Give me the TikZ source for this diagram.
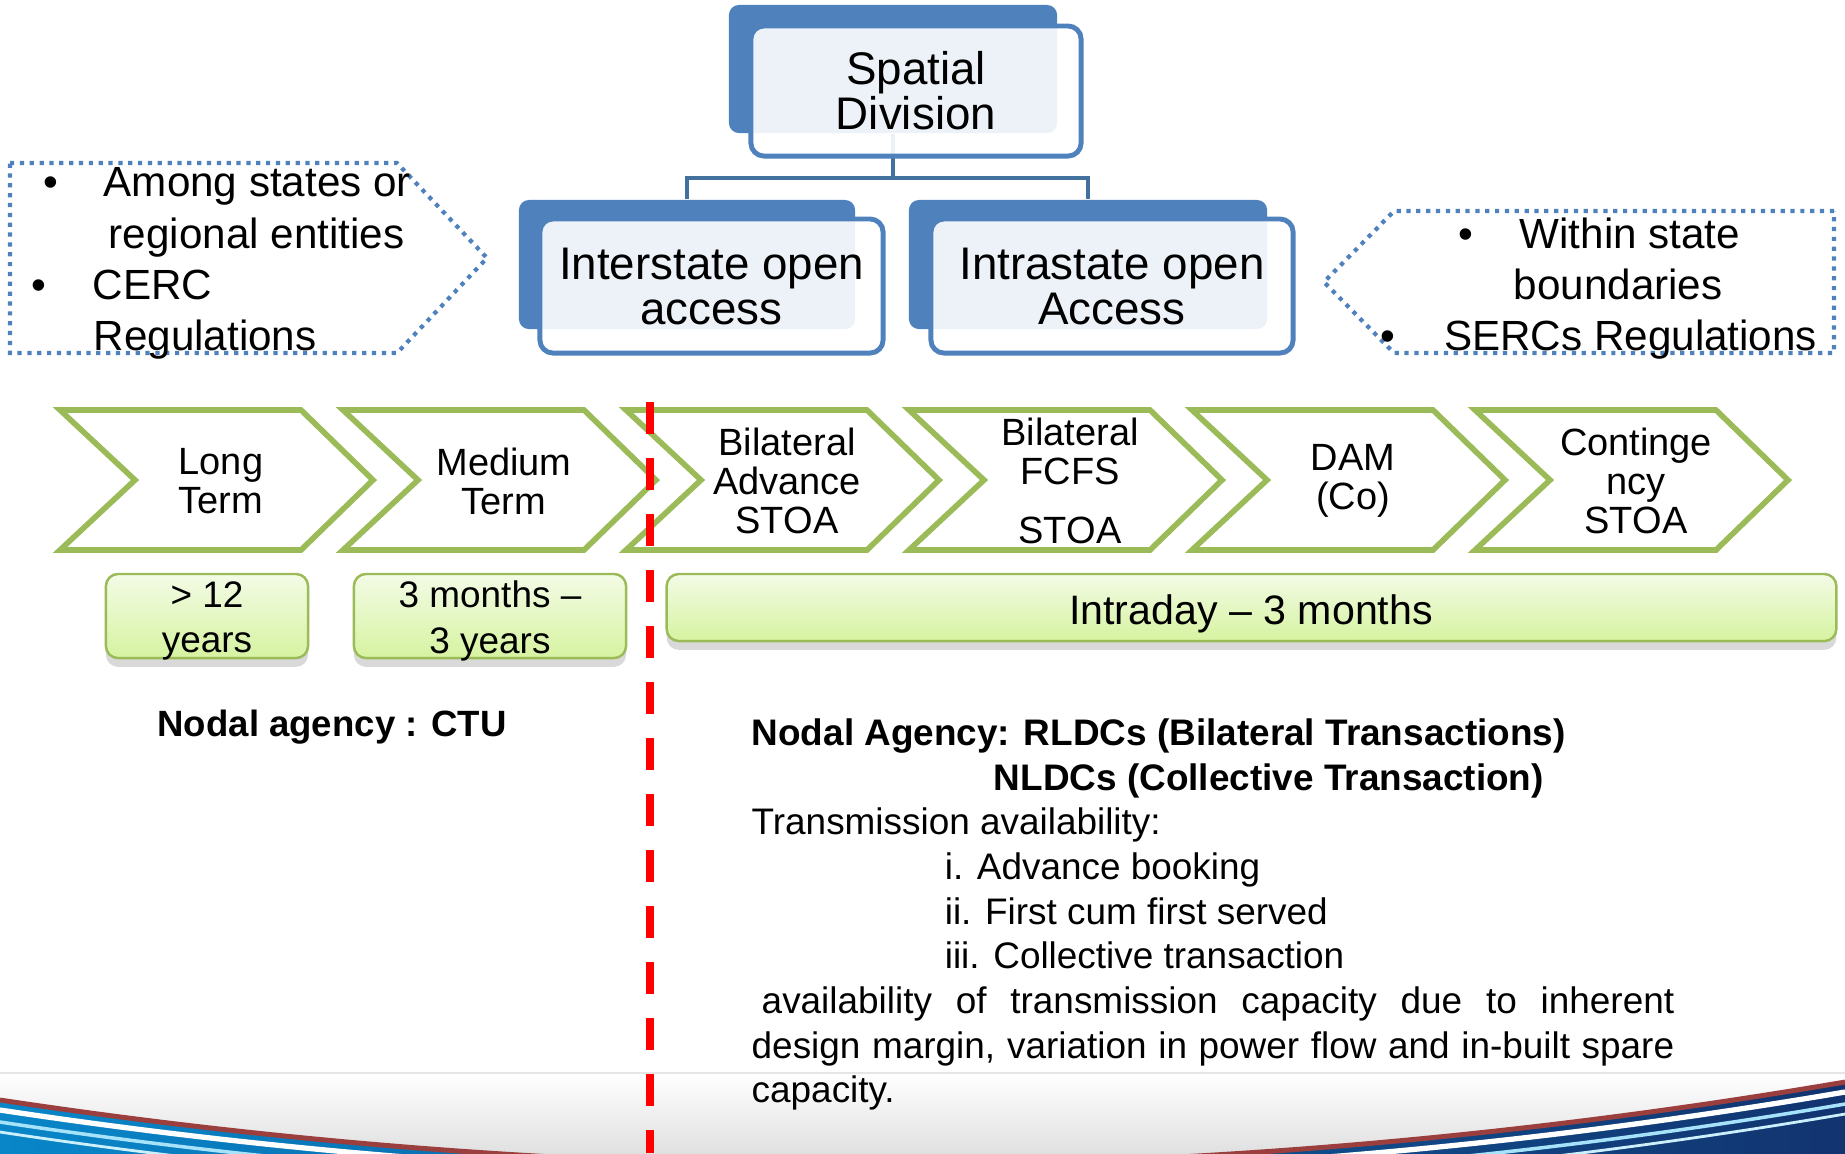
\documentclass[tikz,border=0pt]{standalone}
\usepackage{fontspec}
\setmainfont{Liberation Sans}
\usepackage{tikz}
\usetikzlibrary{shadows}
\setlength{\parindent}{0pt}
\definecolor{ofblue}{RGB}{79,129,189}
\definecolor{linkblue}{RGB}{65,113,156}
\definecolor{chevgreen}{RGB}{155,187,89}
\definecolor{boxtop}{RGB}{243,251,230}
\definecolor{boxbot}{RGB}{214,243,160}
\definecolor{wavecyan}{RGB}{8,134,200}
\definecolor{wavenavy}{RGB}{18,52,112}
\definecolor{wavered}{RGB}{155,62,62}

\begin{document}
\begin{tikzpicture}[x=0.01cm, y=-0.01cm,
	backbox/.style={fill=ofblue, rounded corners=0.1cm, inner sep=0pt},
	frontbox/.style={draw=ofblue, line width=1.4pt, fill=white, fill opacity=0.9, text opacity=1, rounded corners=0.13cm, inner sep=0pt, align=center, font=\fontsize{13}{12.8}\selectfont},
	link/.style={linkblue, line width=1.4pt},
	sidebox/.style={ofblue, line width=1.2pt, dash pattern=on 1.2pt off 1.6pt},
	sidetext/.style={inner sep=0pt, align=left, font=\fontsize{12}{14.6}\selectfont},
	chevron/.style={chevgreen, line width=1.6pt, fill=white, line join=miter},
	chevtext/.style={align=center, inner sep=0pt, font=\fontsize{10.8}{11.1}\selectfont},
	spanbox/.style={draw=chevgreen, line width=0.7pt, top color=boxtop, bottom color=boxbot, rounded corners=0.12cm, inner sep=0pt, drop shadow={shadow xshift=0pt, shadow yshift=-2.5pt, opacity=0.3}},
	spantext/.style={align=center, inner sep=0pt, font=\fontsize{10.5}{13}\selectfont},
	cutline/.style={red, line width=2pt, dash pattern=on 0.32cm off 0.24cm}
]
\useasboundingbox(0,0) rectangle (1845,1153);
\begin{scope}
	\clip(0,1073) rectangle (1845,1153);
	\fill[top color=white, bottom color=black!12](0,1073) rectangle (1845,1153);
	\fill[left color=wavecyan, right color=wavenavy](0,1100) .. controls (615,1193) and (1230,1187) .. (1845,1082)--(1845,1250)--(0,1250)--cycle;
	\draw[white, line width=1.5pt](0,1110) .. controls (615,1203) and (1230,1197) .. (1845,1092);
	\draw[cyan!35, line width=1pt](0,1122) .. controls (615,1215) and (1230,1209) .. (1845,1104);
	\draw[cyan!20, line width=0.8pt](0,1132) .. controls (615,1225) and (1230,1219) .. (1845,1114);
	\draw[wavered, line width=1.4pt](0,1100) .. controls (615,1193) and (1230,1187) .. (1845,1082);
\end{scope}
\draw[black!10, line width=0.6pt](0,1073)--(1845,1073);

\node[backbox, minimum width=3.28cm, minimum height=1.28cm](spback) at (893,69){};
\node[backbox, minimum width=3.36cm, minimum height=1.29cm](interback) at (687,264.5){};
\node[backbox, minimum width=3.58cm, minimum height=1.29cm](intraback) at (1088,264.5){};
\coordinate(fork) at (893,178);
\draw[link](spback.south)--(fork)-|(interback.north);
\draw[link](fork)-|(intraback.north);
\node[frontbox, minimum width=3.30cm, minimum height=1.30cm](spfront) at (916,91){Spatial\\Division};
\node[frontbox, minimum width=3.43cm, minimum height=1.34cm](interfront) at (711.5,286){Interstate open\\access};
\node[frontbox, minimum width=3.62cm, minimum height=1.34cm](intrafront) at (1112,286){Intrastate open\\Access};

\draw[sidebox](10,163)--(397,163)--(487,258)--(397,353)--(10,353)--cycle;
\draw[sidebox](1834,211)--(1394,211)--(1324,282)--(1394,353)--(1834,353)--cycle;
\node[sidetext, anchor=north west](among) at (25,167){\hspace*{1.76mm}\textbullet\hspace*{4.56mm}Among states or\\\hspace*{8.3mm}regional entities\\\hspace*{0.57mm}\textbullet\hspace*{4.67mm}CERC\\\hspace*{6.8mm}Regulations};
\node[sidetext, anchor=north west](within) at (1380,217){\hspace*{7.76mm}\textbullet\hspace*{4.66mm}Within state\\\hspace*{13.3mm}boundaries\\\textbullet\hspace*{4.86mm}SERCs Regulations};

\foreach \i/\lbl in {0/{Long\\Term},1/{Medium\\Term},2/{Bilateral\\Advance\\STOA},3/{Bilateral\\FCFS\\[0.2cm]STOA},4/{DAM\\(Co)},5/{Continge\\ncy\\STOA}}{
	\pgfmathsetmacro{\xa}{60+283*\i}
	\draw[chevron](\xa,410)--++(241,0)--++(72,70)--++(-72,70)--++(-241,0)--++(75,-70)--cycle;
	\node[chevtext](chev\i) at (\xa+161,481){\lbl};
}

\node[spanbox, minimum width=2.02cm, minimum height=0.84cm](ltbox) at (207,616){};
\node[spanbox, minimum width=2.72cm, minimum height=0.84cm](mtbox) at (490,616){};
\node[spanbox, minimum width=11.69cm, minimum height=0.67cm](stbox) at (1251.5,607.5){};
\node[spantext](ltspan) at (207,621){> 12\\years};
\node[spantext](mtspan) at (490,621){3 months –\\3 years};
\node[spantext, font=\fontsize{11.7}{13}\selectfont](stspan) at (1251,614){Intraday – 3 months};

\node[font=\fontsize{10.4}{12.5}\selectfont\bfseries, anchor=base, inner sep=0pt](ctu) at (332,736){Nodal agency : CTU};
\node[anchor=north west, inner sep=0pt, text width=9.22cm, align=justify, font=\fontsize{10.5}{12.7}\selectfont](rldc) at (751,718){\textbf{Nodal Agency: RLDCs (Bilateral Transactions)}\\
\hspace*{2.42cm}\textbf{NLDCs (Collective Transaction)}\\
Transmission availability:\\
\hspace*{1.93cm}i. Advance booking\\
\hspace*{1.93cm}ii. First cum first served\\
\hspace*{1.93cm}iii. Collective transaction\\
\hspace*{1mm}availability of transmission capacity due to inherent\linebreak
design margin, variation in power flow and in-built spare\linebreak capacity.};

\coordinate(cuttop) at (650,402);
\coordinate(cutbot) at (650,1153);
\draw[cutline](cuttop)--(cutbot);
\end{tikzpicture}
\end{document}
